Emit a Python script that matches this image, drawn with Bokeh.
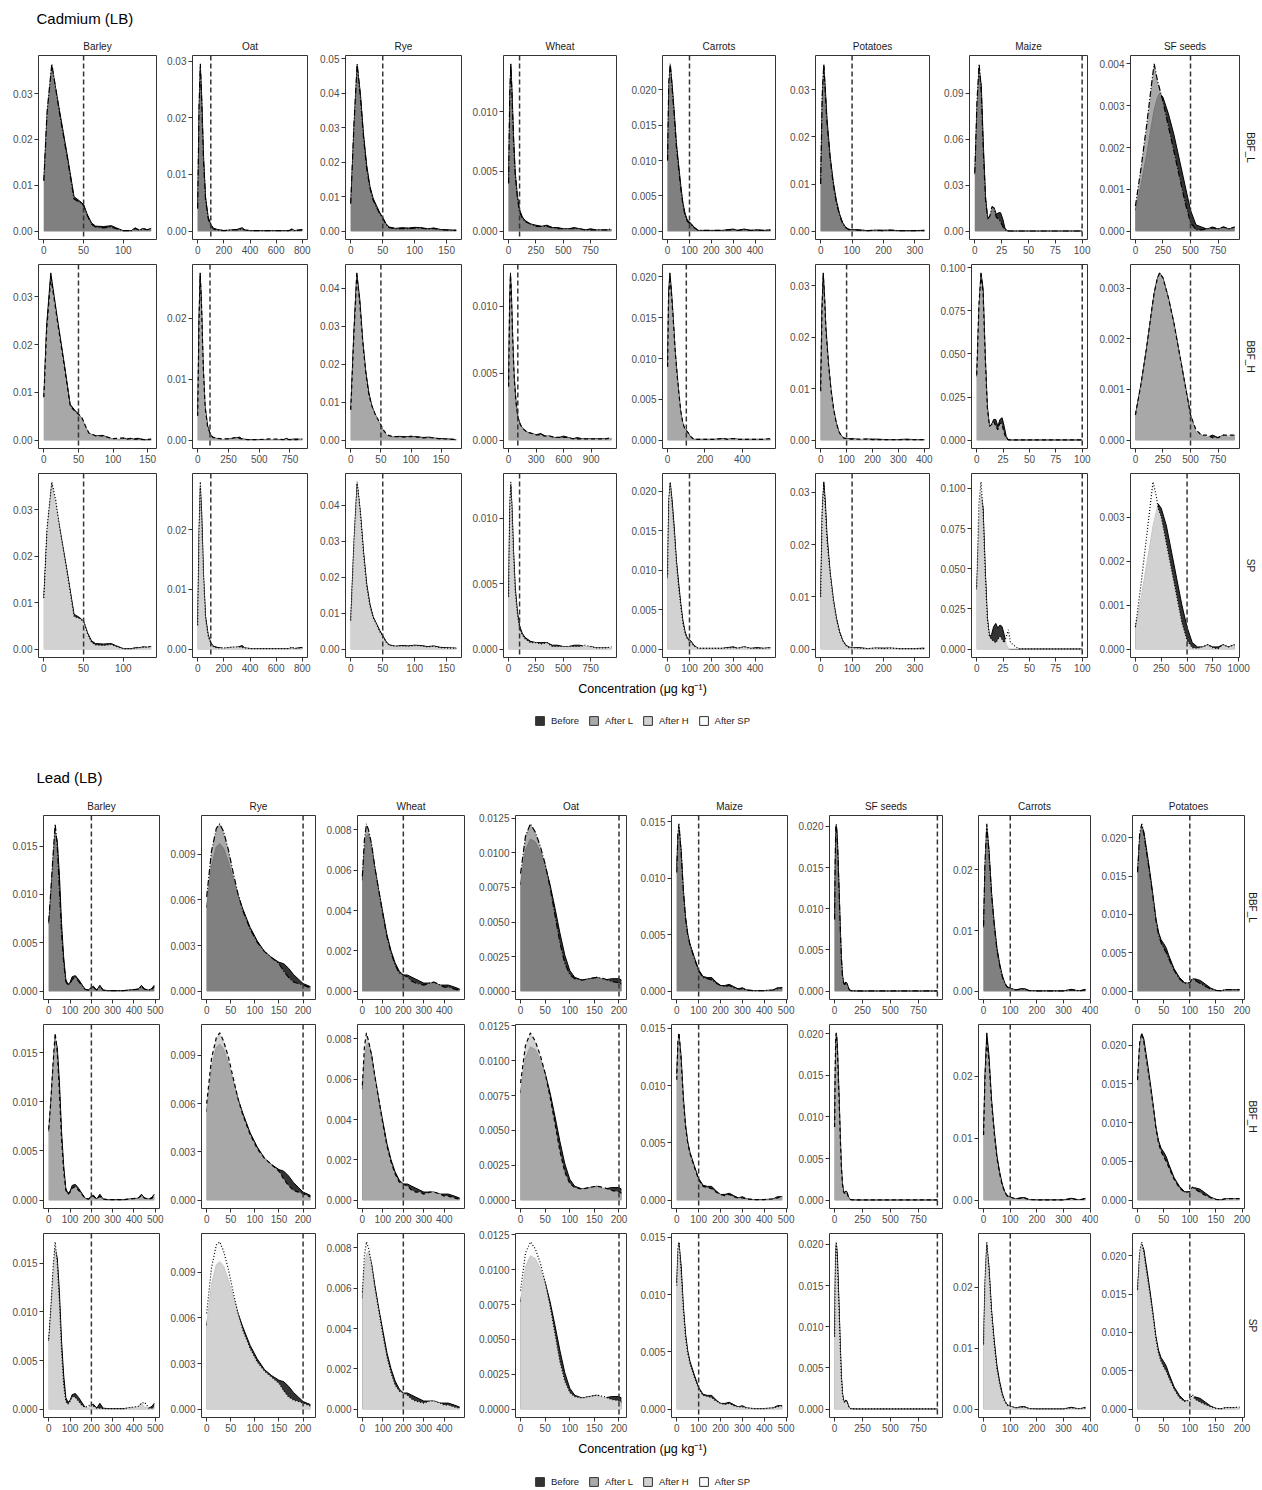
from bokeh.plotting import figure
from bokeh.layouts import column, row
from bokeh.models import (Range1d, FixedTicker, Span, Title, Legend, LegendItem,
                          PrintfTickFormatter, Spacer)
from bokeh.embed import file_html
from bokeh.resources import INLINE

FONT = "Liberation Sans"

# ---------------------------------------------------------------- labels
row_keys = ["BBF_L", "BBF_H", "SP"]
after_names = ["After L", "After H", "After SP"]
legend_labels = ["Before", "After L", "After H", "After SP"]
cd_crops = ["Barley", "Oat", "Rye", "Wheat", "Carrots", "Potatoes", "Maize", "SF seeds"]
pb_crops = ["Barley", "Rye", "Wheat", "Oat", "Maize", "SF seeds", "Carrots", "Potatoes"]
cd_thresholds = [50, 100, 50, 100, 100, 100, 100, 500]
pb_thresholds = [200, 200, 200, 200, 100, 920, 100, 100]

# ================================================================ CADMIUM
cd_barley_x = [0, 4, 10, 15, 20, 30, 38, 45, 50, 55, 60, 65, 75, 85, 90, 100, 110, 115, 120, 125, 130, 135, 145, 155]
cd_barley_b1 = [0.011, 0.025, 0.036, 0.031, 0.026, 0.016, 0.0075, 0.0066, 0.0058, 0.0035, 0.0018, 0.0011, 0.0010, 0.0012, 0.0008, 0.0001, 0.0001, 0.0007, 0.0002, 0.0006, 0.0003, 0.0006]
cd_barley_a1 = [0.011, 0.026, 0.0365, 0.031, 0.0255, 0.0155, 0.007, 0.0063, 0.0056, 0.0033, 0.0015, 0.0009, 0.0007, 0.0009, 0.0006, 0.0001, 0.0001, 0.0006, 0.0002, 0.0005, 0.0003, 0.0005]
cd_barley_b2 = [0.009, 0.024, 0.035, 0.030, 0.025, 0.0155, 0.0075, 0.0062, 0.0055, 0.0045, 0.0028, 0.0014, 0.0009, 0.0010, 0.0007, 0.0002, 0.0001, 0.0005, 0.0002, 0.0004, 0.0002, 0.0004, 0.0001, 0.0001]
cd_barley_a2 = [0.009, 0.023, 0.034, 0.0295, 0.0245, 0.015, 0.0072, 0.006, 0.0054, 0.0047, 0.003, 0.0015, 0.0009, 0.0009, 0.0007, 0.0003, 0.0004, 0.0004, 0.0002, 0.0003, 0.0002, 0.0002, 0.0001, 0.0002]
cd_barley_b3 = [0.011, 0.025, 0.0355, 0.031, 0.026, 0.016, 0.0075, 0.0068, 0.006, 0.0035, 0.0018, 0.0012, 0.0011, 0.0012, 0.0008, 0.0001, 0.0001, 0.0003, 0.0003, 0.0005, 0.0004, 0.0006]
cd_barley_a3 = [0.011, 0.026, 0.036, 0.032, 0.026, 0.0158, 0.007, 0.0066, 0.006, 0.0033, 0.0015, 0.0009, 0.0008, 0.001, 0.0006, 0.0001, 0.0001, 0.0002, 0.0003, 0.0004, 0.0004, 0.0005]
cd_barley_xt = [[0, 50, 100], [0, 50, 100, 150], [0, 50, 100]]
cd_barley_yt = [[0, 0.01, 0.02, 0.03], [0, 0.01, 0.02, 0.03], [0, 0.01, 0.02, 0.03]]

cd_oat_x = [0, 10, 20, 30, 45, 60, 80, 100, 120, 150, 200, 250, 300, 340, 360, 400, 500, 600, 700, 720, 740, 800, 850]
cd_oat_b1 = [0.004, 0.021, 0.029, 0.024, 0.013, 0.006, 0.0025, 0.0012, 0.0005, 0.0003, 0.0001, 0.0002, 0.0003, 0.0006, 0.0002, 0.0001, 0.0001, 0.0001, 0.0001, 0.0004, 0.0001, 0.0003]
cd_oat_a1 = [0.004, 0.022, 0.0295, 0.023, 0.012, 0.0055, 0.0022, 0.001, 0.0004, 0.0002, 0.0001, 0.0002, 0.0002, 0.0004, 0.0002, 0.0001, 0.0001, 0.0001, 0.0001, 0.0003, 0.0001, 0.0002]
cd_oat_b2 = [0.004, 0.020, 0.0275, 0.023, 0.012, 0.0055, 0.0024, 0.0011, 0.0005, 0.0003, 0.0001, 0.0002, 0.0003, 0.0005, 0.0002, 0.0001, 0.0001, 0.0001, 0.0001, 0.0003, 0.0001, 0.0002, 0.0001]
cd_oat_a2 = [0.004, 0.019, 0.027, 0.0225, 0.012, 0.0055, 0.0023, 0.0011, 0.0005, 0.0003, 0.0002, 0.0002, 0.0004, 0.0003, 0.0002, 0.0001, 0.0001, 0.0002, 0.0001, 0.0002, 0.0001, 0.0001, 0.0002]
cd_oat_b3 = [0.004, 0.019, 0.027, 0.023, 0.012, 0.0055, 0.0024, 0.0011, 0.0005, 0.0003, 0.0001, 0.0003, 0.0003, 0.0006, 0.0002, 0.0001, 0.0001, 0.0001, 0.0001, 0.0003, 0.0001, 0.0003]
cd_oat_a3 = [0.004, 0.020, 0.028, 0.022, 0.012, 0.0052, 0.0022, 0.001, 0.0004, 0.0002, 0.0002, 0.0003, 0.0004, 0.0003, 0.0002, 0.0001, 0.0001, 0.0001, 0.0001, 0.0003, 0.0001, 0.0002]
cd_oat_xt = [[0, 200, 400, 600, 800], [0, 250, 500, 750], [0, 200, 400, 600, 800]]
cd_oat_yt = [[0, 0.01, 0.02, 0.03], [0, 0.01, 0.02], [0, 0.01, 0.02]]

cd_rye_x = [0, 5, 10, 15, 20, 25, 30, 35, 40, 45, 50, 55, 60, 70, 80, 90, 100, 110, 120, 130, 140, 150, 160, 165, 175]
cd_rye_b1 = [0.008, 0.030, 0.048, 0.040, 0.028, 0.019, 0.013, 0.0095, 0.0075, 0.0055, 0.004, 0.0022, 0.0012, 0.0008, 0.001, 0.0009, 0.0011, 0.001, 0.0007, 0.0009, 0.0005, 0.0004, 0.0003, 0.0003]
cd_rye_a1 = [0.008, 0.031, 0.0485, 0.039, 0.027, 0.018, 0.0125, 0.009, 0.007, 0.0052, 0.0037, 0.002, 0.001, 0.0007, 0.0008, 0.0007, 0.0009, 0.0009, 0.0006, 0.0008, 0.0004, 0.0003, 0.0002, 0.0002]
cd_rye_b2 = [0.008, 0.028, 0.044, 0.037, 0.026, 0.018, 0.0125, 0.009, 0.007, 0.0052, 0.0038, 0.0022, 0.0012, 0.0008, 0.001, 0.0009, 0.001, 0.0009, 0.0007, 0.0008, 0.0005, 0.0004, 0.0003, 0.0003, 0.0001]
cd_rye_a2 = [0.008, 0.027, 0.0435, 0.036, 0.0255, 0.0175, 0.012, 0.009, 0.007, 0.0055, 0.004, 0.0025, 0.0014, 0.0009, 0.0009, 0.0008, 0.001, 0.0008, 0.0006, 0.0007, 0.0005, 0.0003, 0.0003, 0.0002, 0.0002]
cd_rye_b3 = [0.008, 0.029, 0.046, 0.038, 0.027, 0.018, 0.0125, 0.009, 0.0072, 0.0053, 0.0038, 0.0022, 0.0012, 0.0008, 0.001, 0.0009, 0.0011, 0.001, 0.0007, 0.0009, 0.0005, 0.0004, 0.0003, 0.0003]
cd_rye_a3 = [0.008, 0.030, 0.0465, 0.038, 0.0265, 0.0175, 0.012, 0.0088, 0.007, 0.005, 0.0036, 0.002, 0.0011, 0.0008, 0.0009, 0.0008, 0.001, 0.0009, 0.0006, 0.0008, 0.0004, 0.0003, 0.0003, 0.0002]
cd_rye_xt = [[0, 50, 100, 150], [0, 50, 100, 150], [0, 50, 100, 150]]
cd_rye_yt = [[0, 0.01, 0.02, 0.03, 0.04, 0.05], [0, 0.01, 0.02, 0.03, 0.04], [0, 0.01, 0.02, 0.03, 0.04]]

cd_wheat_x = [0, 10, 20, 30, 45, 60, 80, 100, 125, 150, 200, 250, 300, 350, 400, 450, 500, 550, 600, 650, 700, 750, 800, 850, 900, 940, 1000, 1060, 1120]
cd_wheat_b1 = [0.004, 0.011, 0.014, 0.012, 0.008, 0.005, 0.003, 0.0018, 0.0012, 0.0009, 0.0006, 0.0005, 0.0004, 0.0005, 0.0003, 0.0003, 0.0002, 0.0002, 0.0003, 0.0002, 0.0001, 0.0002, 0.0001, 0.0001, 0.0001, 0.0001]
cd_wheat_a1 = [0.004, 0.0115, 0.0138, 0.0115, 0.0075, 0.0047, 0.0028, 0.0016, 0.0011, 0.0008, 0.0006, 0.0004, 0.0004, 0.0004, 0.0003, 0.0002, 0.0002, 0.0002, 0.0002, 0.0002, 0.0001, 0.0001, 0.0001, 0.0001, 0.0001, 0.0002]
cd_wheat_b2 = [0.004, 0.010, 0.0125, 0.011, 0.0075, 0.0048, 0.0029, 0.0018, 0.0012, 0.0009, 0.0006, 0.0005, 0.0004, 0.0005, 0.0003, 0.0003, 0.0002, 0.0002, 0.0003, 0.0002, 0.0001, 0.0002, 0.0001, 0.0001, 0.0001, 0.0001, 0.0001, 0.0001, 0.0001]
cd_wheat_a2 = [0.004, 0.0098, 0.0123, 0.0108, 0.0074, 0.0047, 0.0028, 0.0017, 0.0012, 0.0009, 0.0006, 0.0005, 0.0004, 0.0004, 0.0003, 0.0003, 0.0002, 0.0002, 0.0002, 0.0002, 0.0001, 0.0001, 0.0001, 0.0001, 0.0001, 0.0001, 0.0001, 0.0001, 0.0002]
cd_wheat_b3 = [0.004, 0.0105, 0.0125, 0.011, 0.0075, 0.0048, 0.0029, 0.0018, 0.0012, 0.0009, 0.0006, 0.0005, 0.0005, 0.0005, 0.0003, 0.0003, 0.0002, 0.0002, 0.0003, 0.0003, 0.0002, 0.0002, 0.0001, 0.0001, 0.0001, 0.0001]
cd_wheat_a3 = [0.004, 0.011, 0.0128, 0.0108, 0.0072, 0.0045, 0.0027, 0.0016, 0.0011, 0.0008, 0.0005, 0.0005, 0.0004, 0.0005, 0.0002, 0.0002, 0.0002, 0.0002, 0.0002, 0.0002, 0.0003, 0.0002, 0.0001, 0.0001, 0.0001, 0.0002]
cd_wheat_xt = [[0, 250, 500, 750], [0, 300, 600, 900], [0, 250, 500, 750]]
cd_wheat_yt = [[0, 0.005, 0.010], [0, 0.005, 0.010], [0, 0.005, 0.010]]

cd_carrots_x = [0, 5, 12, 20, 30, 40, 50, 60, 70, 80, 90, 100, 110, 120, 140, 200, 250, 300, 320, 350, 380, 410, 440, 470, 510, 550]
cd_carrots_b1 = [0.010, 0.020, 0.0235, 0.021, 0.017, 0.0125, 0.0095, 0.0065, 0.004, 0.0025, 0.0016, 0.0013, 0.001, 0.0006, 0.0001, 0.0001, 0.0001, 0.0003, 0.0001, 0.0003, 0.0001, 0.0002, 0.0001, 0.0002]
cd_carrots_a1 = [0.010, 0.021, 0.0237, 0.0205, 0.0165, 0.012, 0.009, 0.006, 0.0037, 0.0022, 0.0014, 0.0011, 0.0008, 0.0005, 0.0001, 0.0001, 0.0001, 0.0002, 0.0001, 0.0002, 0.0001, 0.0001, 0.0001, 0.0001]
cd_carrots_b2 = [0.009, 0.018, 0.0205, 0.0185, 0.015, 0.011, 0.0083, 0.0057, 0.0035, 0.0022, 0.0014, 0.0012, 0.0009, 0.0005, 0.0001, 0.0001, 0.0001, 0.0002, 0.0001, 0.0002, 0.0001, 0.0001, 0.0001, 0.0001, 0.0001, 0.0001]
cd_carrots_a2 = [0.009, 0.0175, 0.020, 0.018, 0.0148, 0.011, 0.0082, 0.0058, 0.0036, 0.0023, 0.0015, 0.0012, 0.0009, 0.0005, 0.0001, 0.0001, 0.0001, 0.0002, 0.0001, 0.0002, 0.0001, 0.0001, 0.0001, 0.0001, 0.0001, 0.0002]
cd_carrots_b3 = [0.009, 0.0185, 0.021, 0.019, 0.0155, 0.0113, 0.0085, 0.0058, 0.0036, 0.0022, 0.0014, 0.0012, 0.0009, 0.0005, 0.0001, 0.0001, 0.0001, 0.0003, 0.0001, 0.0003, 0.0001, 0.0002, 0.0001, 0.0002]
cd_carrots_a3 = [0.0095, 0.019, 0.0212, 0.0185, 0.015, 0.011, 0.008, 0.0055, 0.0033, 0.002, 0.0013, 0.0011, 0.0008, 0.0004, 0.0001, 0.0001, 0.0001, 0.0002, 0.0001, 0.0003, 0.0001, 0.0001, 0.0001, 0.0002]
cd_carrots_xt = [[0, 100, 200, 300, 400], [0, 200, 400], [0, 100, 200, 300, 400]]
cd_carrots_yt = [[0, 0.005, 0.010, 0.015, 0.020], [0, 0.005, 0.010, 0.015, 0.020], [0, 0.005, 0.010, 0.015, 0.020]]

cd_potatoes_x = [0, 5, 10, 15, 20, 30, 40, 50, 60, 70, 80, 90, 100, 120, 150, 175, 200, 220, 250, 300, 330, 360, 400]
cd_potatoes_b1 = [0.010, 0.028, 0.035, 0.030, 0.024, 0.016, 0.0105, 0.0065, 0.0037, 0.0018, 0.0008, 0.0004, 0.0003, 0.0003, 0.0001, 0.0002, 0.0002, 0.0002, 0.0001, 0.0001, 0.0002]
cd_potatoes_a1 = [0.010, 0.029, 0.0355, 0.029, 0.023, 0.0155, 0.010, 0.006, 0.0034, 0.0016, 0.0007, 0.0003, 0.0003, 0.0002, 0.0001, 0.0002, 0.0001, 0.0002, 0.0001, 0.0001, 0.0001]
cd_potatoes_b2 = [0.010, 0.026, 0.0325, 0.028, 0.022, 0.015, 0.0098, 0.006, 0.0034, 0.0017, 0.0008, 0.0004, 0.0003, 0.0003, 0.0001, 0.0002, 0.0002, 0.0002, 0.0001, 0.0001, 0.0002, 0.0001, 0.0001]
cd_potatoes_a2 = [0.0095, 0.025, 0.032, 0.0275, 0.0215, 0.0148, 0.0097, 0.006, 0.0034, 0.0017, 0.0008, 0.0004, 0.0003, 0.0002, 0.0002, 0.0002, 0.0001, 0.0001, 0.0001, 0.0001, 0.0001, 0.0001, 0.0001]
cd_potatoes_b3 = [0.010, 0.026, 0.032, 0.028, 0.022, 0.0148, 0.0097, 0.006, 0.0034, 0.0017, 0.0008, 0.0004, 0.0003, 0.0003, 0.0001, 0.0002, 0.0002, 0.0002, 0.0001, 0.0001, 0.0002]
cd_potatoes_a3 = [0.010, 0.027, 0.0315, 0.027, 0.021, 0.0145, 0.0095, 0.0058, 0.0032, 0.0016, 0.0007, 0.0003, 0.0003, 0.0002, 0.0001, 0.0002, 0.0001, 0.0002, 0.0001, 0.0001, 0.0001]
cd_potatoes_xt = [[0, 100, 200, 300], [0, 100, 200, 300, 400], [0, 100, 200, 300]]
cd_potatoes_yt = [[0, 0.01, 0.02, 0.03], [0, 0.01, 0.02, 0.03], [0, 0.01, 0.02, 0.03]]

cd_maize_x = [0, 2, 4, 6, 8, 10, 12, 14, 16, 18, 20, 22, 24, 26, 28, 30, 32, 40, 60, 80, 100]
cd_maize_b1 = [0.037, 0.08, 0.106, 0.095, 0.055, 0.022, 0.008, 0.009, 0.014, 0.015, 0.011, 0.012, 0.012, 0.008, 0.002, 0.0003, 0.0001, 0.0001, 0.0001, 0.0001, 0.0001]
cd_maize_a1 = [0.038, 0.085, 0.109, 0.09, 0.05, 0.02, 0.008, 0.01, 0.016, 0.015, 0.009, 0.008, 0.006, 0.003, 0.001, 0.0002, 0.0001, 0.0001, 0.0001, 0.0001, 0.0001]
cd_maize_b2 = [0.037, 0.075, 0.097, 0.088, 0.05, 0.02, 0.008, 0.009, 0.012, 0.012, 0.008, 0.012, 0.013, 0.008, 0.002, 0.0003, 0.0001, 0.0001, 0.0001, 0.0001, 0.0001]
cd_maize_a2 = [0.038, 0.078, 0.096, 0.085, 0.048, 0.019, 0.008, 0.009, 0.011, 0.008, 0.006, 0.01, 0.009, 0.004, 0.001, 0.0002, 0.0001, 0.0001, 0.0001, 0.0001, 0.0001]
cd_maize_b3 = [0.037, 0.075, 0.0965, 0.088, 0.05, 0.02, 0.008, 0.009, 0.014, 0.016, 0.013, 0.015, 0.014, 0.009, 0.003, 0.0003, 0.0001, 0.0001, 0.0001, 0.0001, 0.0001]
cd_maize_a3 = [0.039, 0.09, 0.104, 0.085, 0.048, 0.019, 0.008, 0.006, 0.005, 0.004, 0.006, 0.008, 0.006, 0.004, 0.008, 0.012, 0.004, 0.0001, 0.0001, 0.0001, 0.0001]
cd_maize_xt = [[0, 25, 50, 75, 100], [0, 25, 50, 75, 100], [0, 25, 50, 75, 100]]
cd_maize_yt = [[0, 0.03, 0.06, 0.09], [0, 0.025, 0.05, 0.075, 0.1], [0, 0.025, 0.05, 0.075, 0.1]]

cd_sf_x = [0, 50, 100, 150, 170, 200, 220, 250, 300, 350, 400, 450, 500, 550, 600, 650, 700, 750, 800, 850, 900, 960]
cd_sf_b1 = [0.0005, 0.0011, 0.0018, 0.0026, 0.0029, 0.0032, 0.0033, 0.0032, 0.0028, 0.0023, 0.0017, 0.0011, 0.0005, 0.00015, 0.0001, 0.00005, 0.0001, 0.00005, 0.0001, 0.00005, 0.0001]
cd_sf_a1 = [0.0006, 0.0015, 0.0025, 0.0036, 0.004, 0.0036, 0.0034, 0.0031, 0.0025, 0.0019, 0.0013, 0.0007, 0.0002, 0.00003, 0.00003, 0.00005, 0.00008, 0.00005, 0.0001, 0.00005, 0.0001]
cd_sf_b2 = [0.0005, 0.0011, 0.0018, 0.0026, 0.0029, 0.0032, 0.0033, 0.0032, 0.0028, 0.0023, 0.0017, 0.0011, 0.0005, 0.00015, 0.0001, 0.00005, 0.0001, 0.00005, 0.0001, 0.00005, 0.0001]
cd_sf_a2 = [0.0005, 0.0011, 0.0018, 0.0026, 0.0029, 0.0032, 0.0033, 0.0032, 0.0028, 0.0023, 0.0017, 0.0011, 0.0005, 0.0002, 0.0001, 0.0001, 0.00005, 0.00005, 0.0001, 0.0001, 0.0001]
cd_sf_b3 = [0.0005, 0.0011, 0.0018, 0.0025, 0.0028, 0.0031, 0.0033, 0.0032, 0.0028, 0.0022, 0.0016, 0.001, 0.0005, 0.00015, 0.00005, 0.00005, 0.0001, 0.00005, 0.00005, 0.0001, 0.00005, 0.0001]
cd_sf_a3 = [0.0005, 0.0014, 0.0024, 0.0034, 0.0038, 0.0035, 0.0032, 0.003, 0.0024, 0.0018, 0.0012, 0.0006, 0.0002, 0.00003, 0.00002, 0.00005, 0.0001, 0.00003, 0.00001, 0.0001, 0.00005, 0.0001]
cd_sf_xt = [[0, 250, 500, 750], [0, 250, 500, 750], [0, 250, 500, 750, 1000]]
cd_sf_yt = [[0, 0.001, 0.002, 0.003, 0.004], [0, 0.001, 0.002, 0.003], [0, 0.001, 0.002, 0.003, 0.004]]

# ================================================================ LEAD
pb_barley_x = [0, 10, 20, 30, 40, 50, 60, 70, 80, 90, 100, 110, 125, 140, 155, 170, 185, 200, 210, 225, 240, 255, 280, 350, 420, 435, 450, 470, 485, 495]
pb_barley_b = [0.007, 0.010, 0.0135, 0.0165, 0.0155, 0.012, 0.007, 0.0035, 0.0012, 0.0007, 0.0009, 0.0015, 0.0016, 0.0012, 0.0007, 0.0002, 0.0001, 0.0004, 0.0005, 0.0001, 0.0006, 0.0001, 0.00005, 0.00005, 0.0002, 0.0006, 0.0002, 0.0001, 0.0003, 0.0006]
pb_barley_a1 = [0.0072, 0.0105, 0.014, 0.0173, 0.015, 0.0105, 0.006, 0.003, 0.001, 0.0006, 0.0008, 0.0012, 0.0015, 0.001, 0.0006, 0.0002, 0.0001, 0.0003, 0.0004, 0.0001, 0.0005, 0.0001, 0.00005, 0.00005, 0.0002, 0.0005, 0.0002, 0.0001, 0.0002, 0.0005]
pb_barley_a2 = [0.0072, 0.0102, 0.0138, 0.017, 0.015, 0.011, 0.0062, 0.003, 0.001, 0.0006, 0.0008, 0.0012, 0.0014, 0.001, 0.0006, 0.0002, 0.0001, 0.0003, 0.0004, 0.0001, 0.0004, 0.0001, 0.00005, 0.00005, 0.0002, 0.0005, 0.0002, 0.0001, 0.0002, 0.0005]
pb_barley_a3 = [0.0072, 0.0105, 0.0145, 0.0172, 0.015, 0.011, 0.006, 0.0025, 0.0008, 0.0005, 0.0008, 0.0013, 0.0012, 0.0008, 0.0004, 0.0002, 0.0003, 0.0005, 0.0003, 0.0001, 0.0001, 0.00005, 0.00005, 0.00005, 0.0003, 0.0006, 0.0007, 0.0001, 0.0001, 0.0002]
pb_barley_xt = [0, 100, 200, 300, 400, 500]
pb_barley_yt = [0, 0.005, 0.010, 0.015]

pb_rye_x = [0, 10, 20, 27, 35, 45, 55, 65, 75, 90, 105, 120, 135, 150, 160, 170, 180, 190, 200, 215]
pb_rye_b = [0.0055, 0.0082, 0.0095, 0.0097, 0.0094, 0.0085, 0.0074, 0.0063, 0.0054, 0.0042, 0.0033, 0.0026, 0.0022, 0.0019, 0.0018, 0.0015, 0.0011, 0.0008, 0.0005, 0.0003]
pb_rye_a1 = [0.0062, 0.0092, 0.0107, 0.011, 0.0105, 0.0093, 0.0078, 0.0064, 0.0053, 0.0041, 0.0032, 0.0026, 0.0022, 0.0018, 0.0013, 0.0009, 0.0006, 0.0005, 0.0004, 0.0002]
pb_rye_a2 = [0.006, 0.0088, 0.0101, 0.0104, 0.0099, 0.0089, 0.0076, 0.0063, 0.0053, 0.0041, 0.0032, 0.0026, 0.0022, 0.0018, 0.0013, 0.0009, 0.0006, 0.0005, 0.0004, 0.0002]
pb_rye_a3 = [0.0063, 0.0093, 0.0108, 0.011, 0.0104, 0.0092, 0.0077, 0.0063, 0.0052, 0.004, 0.0031, 0.0025, 0.0021, 0.0017, 0.0012, 0.0008, 0.0006, 0.0005, 0.0004, 0.0002]
pb_rye_xt = [0, 50, 100, 150, 200]
pb_rye_yt = [0, 0.003, 0.006, 0.009]

pb_wheat_x = [0, 10, 20, 30, 45, 60, 80, 100, 120, 140, 160, 180, 200, 220, 240, 260, 280, 300, 330, 350, 380, 400, 420, 450, 475]
pb_wheat_b = [0.0055, 0.007, 0.0077, 0.0078, 0.0072, 0.0062, 0.005, 0.0039, 0.0028, 0.002, 0.0014, 0.001, 0.0008, 0.0008, 0.0007, 0.0006, 0.0005, 0.0004, 0.0004, 0.0004, 0.0003, 0.0003, 0.0003, 0.0002, 0.0001]
pb_wheat_a1 = [0.0057, 0.0075, 0.0083, 0.008, 0.0073, 0.0062, 0.005, 0.0038, 0.0027, 0.0019, 0.0013, 0.0009, 0.0008, 0.0007, 0.0005, 0.0004, 0.00035, 0.0003, 0.0004, 0.00045, 0.0003, 0.0002, 0.0002, 0.0001, 0.00005]
pb_wheat_a2 = [0.0057, 0.0076, 0.0083, 0.0079, 0.0072, 0.0062, 0.005, 0.0038, 0.0027, 0.0019, 0.0013, 0.0009, 0.0008, 0.0007, 0.0005, 0.0004, 0.0004, 0.0003, 0.0004, 0.0004, 0.0003, 0.0002, 0.0002, 0.0001, 0.00005]
pb_wheat_a3 = [0.0058, 0.0076, 0.0083, 0.008, 0.0072, 0.0061, 0.0049, 0.0037, 0.0026, 0.0018, 0.0012, 0.0009, 0.0008, 0.0007, 0.0005, 0.0004, 0.00035, 0.0003, 0.0004, 0.0004, 0.0003, 0.0002, 0.0002, 0.0001, 0.00005]
pb_wheat_xt = [0, 100, 200, 300, 400]
pb_wheat_yt = [0, 0.002, 0.004, 0.006, 0.008]

pb_oat_x = [0, 10, 20, 30, 40, 50, 60, 70, 80, 90, 100, 110, 125, 140, 155, 170, 185, 200, 205]
pb_oat_b = [0.0077, 0.0102, 0.011, 0.0108, 0.0101, 0.0091, 0.0077, 0.006, 0.0042, 0.0026, 0.0015, 0.001, 0.0008, 0.0009, 0.001, 0.0008, 0.0009, 0.0009, 0.0008]
pb_oat_a1 = [0.0085, 0.0112, 0.0121, 0.0115, 0.0105, 0.0092, 0.0075, 0.0055, 0.0035, 0.002, 0.0012, 0.0009, 0.0008, 0.0009, 0.001, 0.0009, 0.0007, 0.0006, 0.0005]
pb_oat_a2 = [0.0084, 0.0111, 0.012, 0.0114, 0.0104, 0.0091, 0.0074, 0.0055, 0.0035, 0.002, 0.0012, 0.0009, 0.0008, 0.0009, 0.001, 0.0009, 0.0007, 0.0006, 0.0005]
pb_oat_a3 = [0.0085, 0.0112, 0.012, 0.0115, 0.0105, 0.0091, 0.0074, 0.0054, 0.0034, 0.002, 0.0012, 0.0009, 0.0008, 0.0009, 0.001, 0.0009, 0.0007, 0.0006, 0.0005]
pb_oat_xt = [0, 50, 100, 150, 200]
pb_oat_yt = [0, 0.0025, 0.005, 0.0075, 0.01, 0.0125]

pb_maize_x = [0, 5, 10, 20, 30, 40, 50, 60, 80, 100, 120, 140, 160, 180, 200, 220, 240, 260, 280, 300, 320, 350, 400, 440, 460, 482]
pb_maize_b = [0.011, 0.0135, 0.0145, 0.0125, 0.009, 0.0066, 0.0051, 0.0042, 0.003, 0.0019, 0.0013, 0.0012, 0.0012, 0.0008, 0.0005, 0.0005, 0.0006, 0.0004, 0.0002, 0.0003, 0.0001, 0.00005, 0.00005, 0.0001, 0.0003, 0.0003]
pb_maize_a1 = [0.0105, 0.014, 0.0148, 0.0122, 0.0088, 0.0064, 0.005, 0.0041, 0.0029, 0.0018, 0.0012, 0.0011, 0.001, 0.0007, 0.0005, 0.0004, 0.0005, 0.0003, 0.0002, 0.0002, 0.0001, 0.00005, 0.00005, 0.0001, 0.0002, 0.0003]
pb_maize_a2 = [0.0105, 0.0138, 0.0146, 0.0122, 0.0088, 0.0064, 0.005, 0.0041, 0.0029, 0.0018, 0.0012, 0.0011, 0.001, 0.0007, 0.0005, 0.0004, 0.0005, 0.0003, 0.0002, 0.0002, 0.0001, 0.00005, 0.00005, 0.0001, 0.0002, 0.0003]
pb_maize_a3 = [0.0108, 0.014, 0.0146, 0.012, 0.0087, 0.0063, 0.0049, 0.004, 0.0028, 0.0018, 0.0012, 0.0011, 0.001, 0.0007, 0.0005, 0.0004, 0.0005, 0.0003, 0.0002, 0.0002, 0.0001, 0.00005, 0.00005, 0.0001, 0.0002, 0.0003]
pb_maize_xt = [0, 100, 200, 300, 400, 500]
pb_maize_yt = [0, 0.005, 0.010, 0.015]

pb_sf_x = [0, 5, 10, 15, 20, 25, 30, 40, 50, 60, 70, 80, 90, 100, 110, 120, 130, 145, 200, 300, 500, 700, 920]
pb_sf_b = [0.0088, 0.015, 0.019, 0.020, 0.0195, 0.0185, 0.0165, 0.0125, 0.008, 0.0042, 0.002, 0.0011, 0.0009, 0.0011, 0.001, 0.0006, 0.0002, 0.00005, 0.00002, 0.00002, 0.00002, 0.00002, 0.00002]
pb_sf_a1 = [0.0087, 0.016, 0.0198, 0.0203, 0.0192, 0.018, 0.016, 0.012, 0.0077, 0.004, 0.0019, 0.001, 0.0008, 0.001, 0.0009, 0.0005, 0.0002, 0.00005, 0.00002, 0.00002, 0.00002, 0.00002, 0.00002]
pb_sf_a2 = [0.0088, 0.0158, 0.0196, 0.0201, 0.0191, 0.0179, 0.0159, 0.012, 0.0077, 0.004, 0.0019, 0.001, 0.0008, 0.001, 0.0009, 0.0005, 0.0002, 0.00005, 0.00002, 0.00002, 0.00002, 0.00002, 0.00002]
pb_sf_a3 = [0.0088, 0.016, 0.0199, 0.0203, 0.0191, 0.0178, 0.0158, 0.0118, 0.0076, 0.0039, 0.0019, 0.001, 0.0008, 0.001, 0.0009, 0.0005, 0.0002, 0.00005, 0.00002, 0.00002, 0.00002, 0.00002, 0.00002]
pb_sf_xt = [0, 250, 500, 750]
pb_sf_yt = [0, 0.005, 0.010, 0.015, 0.020]

pb_carrots_x = [0, 5, 12, 20, 30, 40, 50, 60, 70, 80, 90, 100, 120, 140, 155, 170, 200, 300, 330, 350, 365, 382]
pb_carrots_b = [0.0105, 0.020, 0.027, 0.0235, 0.0162, 0.0112, 0.0072, 0.0046, 0.0026, 0.0013, 0.0007, 0.0005, 0.0002, 0.0004, 0.0004, 0.0001, 0.00005, 0.00005, 0.0003, 0.0001, 0.0001, 0.0003]
pb_carrots_a1 = [0.0108, 0.021, 0.0276, 0.023, 0.0158, 0.0108, 0.0068, 0.0043, 0.0024, 0.0012, 0.0006, 0.0005, 0.0002, 0.0003, 0.0003, 0.0001, 0.00005, 0.00005, 0.0002, 0.0001, 0.0001, 0.0002]
pb_carrots_a2 = [0.0105, 0.0195, 0.026, 0.0225, 0.0157, 0.0108, 0.0068, 0.0043, 0.0024, 0.0012, 0.0006, 0.0005, 0.0002, 0.0003, 0.0003, 0.0001, 0.00005, 0.00005, 0.0002, 0.0001, 0.0001, 0.0002]
pb_carrots_a3 = [0.0108, 0.021, 0.0275, 0.023, 0.0158, 0.0107, 0.0067, 0.0042, 0.0023, 0.0012, 0.0006, 0.0005, 0.0002, 0.0003, 0.0003, 0.0001, 0.00005, 0.00005, 0.0002, 0.0001, 0.0001, 0.0002]
pb_carrots_xt = [0, 100, 200, 300, 400]
pb_carrots_yt = [0, 0.01, 0.02]

pb_potatoes_x = [0, 4, 8, 12, 16, 20, 25, 30, 35, 40, 45, 50, 55, 60, 70, 80, 90, 100, 105, 110, 120, 130, 140, 150, 160, 170, 185, 195]
pb_potatoes_b = [0.0155, 0.020, 0.0215, 0.0208, 0.019, 0.0172, 0.0148, 0.0122, 0.0095, 0.0077, 0.0067, 0.0062, 0.0056, 0.0046, 0.0029, 0.0018, 0.0011, 0.001, 0.0015, 0.0016, 0.0014, 0.0009, 0.0004, 0.0001, 0.00005, 0.0002, 0.0002, 0.0002]
pb_potatoes_a1 = [0.0155, 0.0205, 0.0218, 0.0205, 0.0186, 0.0168, 0.0145, 0.012, 0.0093, 0.0074, 0.0063, 0.0056, 0.005, 0.0042, 0.0027, 0.0016, 0.001, 0.0011, 0.0017, 0.0014, 0.001, 0.0006, 0.0003, 0.0001, 0.00005, 0.0002, 0.0002, 0.0002]
pb_potatoes_a2 = [0.0155, 0.0203, 0.0216, 0.0204, 0.0186, 0.0168, 0.0145, 0.012, 0.0093, 0.0074, 0.0063, 0.0056, 0.005, 0.0042, 0.0027, 0.0016, 0.001, 0.0011, 0.0017, 0.0014, 0.001, 0.0006, 0.0003, 0.0001, 0.00005, 0.0002, 0.0002, 0.0002]
pb_potatoes_a3 = [0.0156, 0.0206, 0.0218, 0.0204, 0.0185, 0.0167, 0.0144, 0.0119, 0.0092, 0.0073, 0.0062, 0.0055, 0.0049, 0.0041, 0.0026, 0.0015, 0.001, 0.0012, 0.0019, 0.0013, 0.0009, 0.0006, 0.0003, 0.0001, 0.00005, 0.0002, 0.0002, 0.0003]
pb_potatoes_xt = [0, 50, 100, 150, 200]
pb_potatoes_yt = [0, 0.005, 0.010, 0.015, 0.020]

# ---------------------------------------------------------------- styles
FILL_BEFORE = "#000000"
FILL_AFTER = {"After L": "#939393", "After H": "#c6c6c6", "After SP": "#fafafa"}
ALPHA = 0.8
DASH = {"After L": "6 2 1 2", "After H": "4 3", "After SP": "1 2"}

# frame geometry (pixels)
CD_L = [38, 190, 345, 500, 662, 815, 969, 1130]
CD_R = [156, 307, 461, 616, 775, 929, 1087, 1240]
PB_L = [43, 198, 354, 515, 671, 826, 976, 1131]
PB_R = [159, 315, 464, 626, 787, 942, 1090, 1246]
TOTAL_W = 1262
FRAME_H = 184


def decimals(ticks):
    dec = 0
    for t in ticks:
        for d in range(0, 7):
            if abs(round(t, d) - t) < 1e-12:
                dec = max(dec, d)
                break
    return dec


def make_panel(xgrid, before, after, kind, xt, yt, thr, fl, fr, sl, sr, top, bot,
               strip_top=None, strip_right=None, right_standoff=5):
    n = min(len(before), len(after))
    xs = xgrid[:n]
    b = before[:n]
    a = after[:n]
    xmin = min(xs[0], thr)
    xmax = max(xs[-1], thr)
    span = xmax - xmin
    ymax = max(max(b), max(a))
    p = figure(width=sr - sl, height=top + FRAME_H + bot, output_backend="svg",
               toolbar_location=None,
               x_range=Range1d(xmin - 0.05 * span, xmax + 0.05 * span),
               y_range=Range1d(-0.05 * ymax, 1.05 * ymax),
               min_border_left=fl - sl, min_border_right=sr - fr,
               min_border_top=top, min_border_bottom=bot)
    p.background_fill_color = "white"
    p.outline_line_color = "#333333"
    p.outline_line_width = 1
    p.xgrid.visible = False
    p.ygrid.visible = False
    for ax, ticks in ((p.xaxis, xt), (p.yaxis, yt)):
        ax.ticker = FixedTicker(ticks=ticks, minor_ticks=[])
        ax.axis_line_color = None
        ax.major_tick_line_color = "#333333"
        ax.major_tick_in = 0
        ax.major_tick_out = 4
        ax.minor_tick_line_color = None
        ax.major_label_standoff = 2
        ax.major_label_text_font = FONT
        ax.major_label_text_font_size = "10px"
        ax.major_label_text_color = "#4d4d4d"
    p.xaxis.formatter = PrintfTickFormatter(format="%d")
    p.yaxis.formatter = PrintfTickFormatter(format="%." + str(decimals(yt)) + "f")

    p.varea(x=xs, y1=0, y2=b, fill_color=FILL_BEFORE, fill_alpha=ALPHA)
    p.line(xs, b, line_color="black", line_width=1.0)
    p.varea(x=xs, y1=0, y2=a, fill_color=FILL_AFTER[kind], fill_alpha=ALPHA)
    p.line(xs, a, line_color="black", line_width=1.2, line_dash=DASH[kind])
    p.add_layout(Span(location=thr, dimension="height", line_color="#333333",
                      line_width=1.5, line_dash="5 3"))
    if strip_top:
        t = Title(text=strip_top, align="center", text_font=FONT, text_font_size="10px",
                  text_font_style="normal", text_color="#1a1a1a", standoff=8)
        p.add_layout(t, "above")
    if strip_right:
        t = Title(text=strip_right, align="center", text_font=FONT, text_font_size="10px",
                  text_font_style="normal", text_color="#1a1a1a", standoff=right_standoff)
        p.add_layout(t, "right")
    return p


def text_fig(text, h, size, align, offset, left, standoff):
    p = figure(width=TOTAL_W, height=h, output_backend="svg", toolbar_location=None,
               x_axis_location=None, y_axis_location=None,
               x_range=Range1d(0, 1), y_range=Range1d(0, 1),
               min_border_left=left, min_border_right=0, min_border_top=0, min_border_bottom=0)
    p.outline_line_color = None
    p.grid.visible = False
    t = Title(text=text, align=align, offset=offset, text_font=FONT, text_font_size=size,
              text_font_style="normal", text_color="black", standoff=standoff)
    p.add_layout(t, "above")
    return p


def legend_fig(h, loc, margin):
    p = figure(width=TOTAL_W, height=h, output_backend="svg", toolbar_location=None,
               x_axis_location=None, y_axis_location=None,
               x_range=Range1d(0, 1), y_range=Range1d(0, 1),
               min_border_left=22, min_border_right=0, min_border_top=0, min_border_bottom=0)
    p.outline_line_color = None
    p.grid.visible = False
    fills = [FILL_BEFORE] + [FILL_AFTER[k] for k in after_names]
    items = []
    for lab, col in zip(legend_labels, fills):
        # legend proxy: placed outside the visible range so only the legend key shows
        r = p.rect(x=[-5], y=[-5], width=1, height=1, fill_color=col, fill_alpha=ALPHA,
                   line_color="#333333", line_width=1)
        items.append(LegendItem(label=lab, renderers=[r]))
    leg = Legend(items=items, orientation="horizontal", location=loc,
                 border_line_color=None, background_fill_alpha=0,
                 glyph_width=11, glyph_height=11, label_standoff=6, spacing=9,
                 padding=0, margin=margin, label_text_font=FONT,
                 label_text_font_size="9.5px", label_text_color="#1a1a1a",
                 label_height=11)
    p.add_layout(leg, "center")
    return p


def build_block(crops, thresholds, data, L, R, tops, bots, right_standoff):
    S = [0] + [R[k] + 8 for k in range(7)] + [TOTAL_W]
    rows_out = []
    for r in range(3):
        figs = []
        for k, crop in enumerate(crops):
            xgrid, pairs, xts, yts = data[k]
            before, after = pairs[r]
            p = make_panel(xgrid, before, after, after_names[r], xts[r], yts[r],
                           thresholds[k], L[k], R[k], S[k], S[k + 1], tops[r], bots[r],
                           strip_top=crop if r == 0 else None,
                           strip_right=row_keys[r] if k == 7 else None,
                           right_standoff=right_standoff)
            figs.append(p)
        rows_out.append(row(figs, spacing=0))
    return rows_out


cd_data = [
    (cd_barley_x, [(cd_barley_b1, cd_barley_a1), (cd_barley_b2, cd_barley_a2), (cd_barley_b3, cd_barley_a3)], cd_barley_xt, cd_barley_yt),
    (cd_oat_x, [(cd_oat_b1, cd_oat_a1), (cd_oat_b2, cd_oat_a2), (cd_oat_b3, cd_oat_a3)], cd_oat_xt, cd_oat_yt),
    (cd_rye_x, [(cd_rye_b1, cd_rye_a1), (cd_rye_b2, cd_rye_a2), (cd_rye_b3, cd_rye_a3)], cd_rye_xt, cd_rye_yt),
    (cd_wheat_x, [(cd_wheat_b1, cd_wheat_a1), (cd_wheat_b2, cd_wheat_a2), (cd_wheat_b3, cd_wheat_a3)], cd_wheat_xt, cd_wheat_yt),
    (cd_carrots_x, [(cd_carrots_b1, cd_carrots_a1), (cd_carrots_b2, cd_carrots_a2), (cd_carrots_b3, cd_carrots_a3)], cd_carrots_xt, cd_carrots_yt),
    (cd_potatoes_x, [(cd_potatoes_b1, cd_potatoes_a1), (cd_potatoes_b2, cd_potatoes_a2), (cd_potatoes_b3, cd_potatoes_a3)], cd_potatoes_xt, cd_potatoes_yt),
    (cd_maize_x, [(cd_maize_b1, cd_maize_a1), (cd_maize_b2, cd_maize_a2), (cd_maize_b3, cd_maize_a3)], cd_maize_xt, cd_maize_yt),
    (cd_sf_x, [(cd_sf_b1, cd_sf_a1), (cd_sf_b2, cd_sf_a2), (cd_sf_b3, cd_sf_a3)], cd_sf_xt, cd_sf_yt),
]


def pb_entry(x, b, a1, a2, a3, xt, yt):
    return (x, [(b, a1), (b, a2), (b, a3)], [xt, xt, xt], [yt, yt, yt])


pb_data = [
    pb_entry(pb_barley_x, pb_barley_b, pb_barley_a1, pb_barley_a2, pb_barley_a3, pb_barley_xt, pb_barley_yt),
    pb_entry(pb_rye_x, pb_rye_b, pb_rye_a1, pb_rye_a2, pb_rye_a3, pb_rye_xt, pb_rye_yt),
    pb_entry(pb_wheat_x, pb_wheat_b, pb_wheat_a1, pb_wheat_a2, pb_wheat_a3, pb_wheat_xt, pb_wheat_yt),
    pb_entry(pb_oat_x, pb_oat_b, pb_oat_a1, pb_oat_a2, pb_oat_a3, pb_oat_xt, pb_oat_yt),
    pb_entry(pb_maize_x, pb_maize_b, pb_maize_a1, pb_maize_a2, pb_maize_a3, pb_maize_xt, pb_maize_yt),
    pb_entry(pb_sf_x, pb_sf_b, pb_sf_a1, pb_sf_a2, pb_sf_a3, pb_sf_xt, pb_sf_yt),
    pb_entry(pb_carrots_x, pb_carrots_b, pb_carrots_a1, pb_carrots_a2, pb_carrots_a3, pb_carrots_xt, pb_carrots_yt),
    pb_entry(pb_potatoes_x, pb_potatoes_b, pb_potatoes_a1, pb_potatoes_a2, pb_potatoes_a3, pb_potatoes_xt, pb_potatoes_yt),
]

XLABEL = "Concentration (\u03bcg kg\u207b\u00b9)"

cd_top = Spacer(width=TOTAL_W, height=4)
cd_head = text_fig("Cadmium (LB)", 29, "15px", "left", 14, 0, 6)
cd_rows = build_block(cd_crops, cd_thresholds, cd_data, CD_L, CD_R, [22, 4, 4], [21, 21, 21], 10)
cd_xlab = text_fig(XLABEL, 22, "12.5px", "center", 0, 22, 2)
cd_leg = legend_fig(63, "top", 15)

pb_head = text_fig("Lead (LB)", 29, "15px", "left", 14, 0, 6)
pb_rows = build_block(pb_crops, pb_thresholds, pb_data, PB_L, PB_R, [23, 4, 4], [21, 21, 21], 5)
pb_xlab = text_fig(XLABEL, 22, "12.5px", "center", 0, 22, 2)
pb_leg = legend_fig(30, "bottom", 3)

layout = column([cd_top, cd_head] + cd_rows + [cd_xlab, cd_leg, pb_head] + pb_rows + [pb_xlab, pb_leg],
                spacing=0)

open("out.html", "w").write(file_html(layout, INLINE))
